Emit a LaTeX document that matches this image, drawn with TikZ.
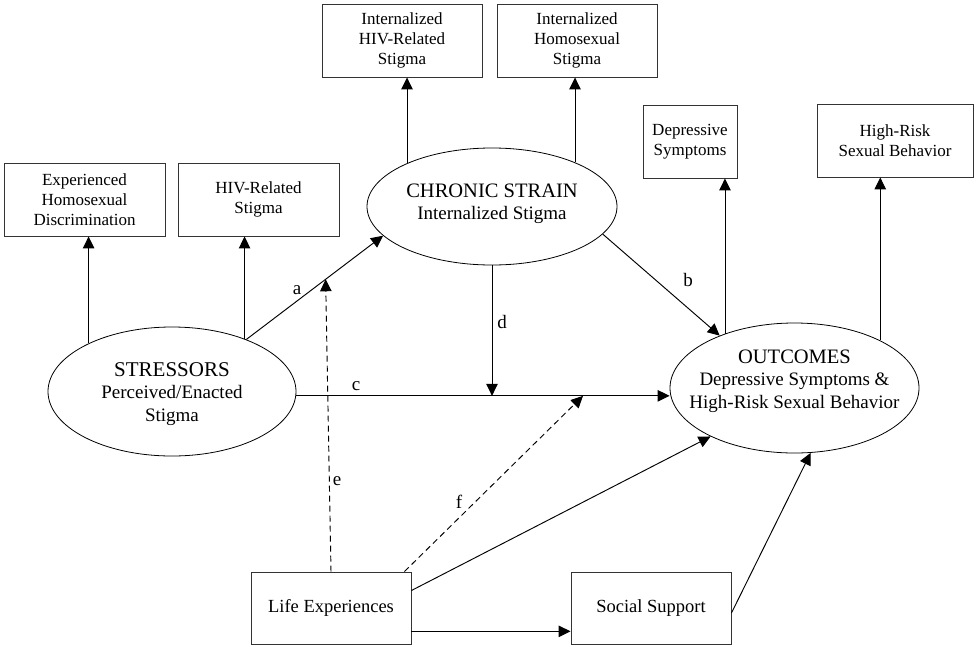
\documentclass[tikz,border=0pt]{standalone}
\usepackage{fontspec}
\setmainfont{Liberation Serif}
\usetikzlibrary{shapes.geometric,arrows.meta,calc}

\begin{document}
\begin{tikzpicture}[x=1pt,y=-1pt,
  box/.style={draw=black!80, line width=0.9pt, rectangle, inner sep=0pt,
              align=center, font=\fontsize{17}{20}\selectfont},
  lowbox/.style={box, font=\fontsize{18.5}{22}\selectfont},
  oval/.style={draw=black, line width=0.8pt, ellipse, inner sep=0pt},
  ovaltext/.style={align=center, inner sep=0pt, font=\fontsize{19}{22.5}\selectfont},
  link/.style={line width=0.95pt, -{Triangle[length=12pt,width=11.5pt]}},
  dlink/.style={link, dash pattern=on 6pt off 4pt},
  lab/.style={inner sep=0pt, font=\fontsize{19}{22}\selectfont}]
\useasboundingbox (0,0) rectangle (977,646);

% indicator boxes
\node[box, minimum width=161pt, minimum height=73pt] (exp) at (84.5,199.5)
  {Experienced\\Homosexual\\Discrimination};
\node[box, minimum width=161pt, minimum height=73pt] (hiv) at (258.5,199.5)
  {HIV-Related\\Stigma};
\node[box, minimum width=160pt, minimum height=73pt] (ihiv) at (402,40.5)
  {Internalized\\HIV-Related\\Stigma};
\node[box, minimum width=160pt, minimum height=73pt] (ihom) at (577,40.5)
  {Internalized\\Homosexual\\Stigma};
\node[box, minimum width=94pt, minimum height=73pt] (dep) at (690,141.5)
  {Depressive\\Symptoms};
\node[box, minimum width=156pt, minimum height=73pt] (hrsb) at (895,140.5)
  {High-Risk\\Sexual Behavior};

% latent constructs
\node[oval, minimum width=248pt, minimum height=129pt] (str) at (172,391.5) {};
\node[ovaltext] (strT) at (172,394)
  {{\fontsize{21}{22.5}\selectfont STRESSORS}\\Perceived/Enacted\\Stigma};
\node[oval, minimum width=250pt, minimum height=117pt] (chr) at (492,206.5) {};
\node[ovaltext] (chrT) at (492,204)
  {{\fontsize{20.5}{22.5}\selectfont CHRONIC STRAIN}\\Internalized Stigma};
\node[oval, minimum width=249pt, minimum height=130pt] (out) at (794.5,388) {};
\node[ovaltext] (outT) at (794.5,381)
  {{\fontsize{20.5}{22.5}\selectfont OUTCOMES}\\Depressive Symptoms \&\\High-Risk Sexual Behavior};

% moderators
\node[lowbox, minimum width=160pt, minimum height=72pt] (life) at (331,608) {Life Experiences};
\node[lowbox, minimum width=160pt, minimum height=72pt] (soc) at (651,608) {Social Support};

% measurement arrows
\draw[link] (str.150) -- (str.150 |- exp.south);
\draw[link] (str.36.7) -- (str.36.7 |- hiv.south);
\draw[link] (chr.153.9) -- (chr.153.9 |- ihiv.south);
\draw[link] (chr.28.8) -- (chr.28.8 |- ihom.south);
\draw[link] (out.142.2) -- (out.142.2 |- dep.south);
\draw[link] (out.29.2) -- (out.29.2 |- hrsb.south);

% structural paths
\draw[link] (str.35) -- (chr.195);
\node[lab] (la) at (297,290) {a};
\draw[link] (chr.-14.7) -- (out.145.5);
\node[lab] (lb) at (688,280) {b};
\coordinate (cL) at (str.-2.9);
\draw[link] (cL) -- (cL -| out.west);
\node[lab] (lc) at (356,386) {c};
\draw[link] (chr.south) -- (chr.south |- cL);
\node[lab] (ld) at (502,322) {d};

% moderation by life experiences
\coordinate (etip) at ($(str.35)!0.58!(chr.195)$);
\draw[dlink] (life.north) -- (etip);
\node[lab] (le) at (337,481) {e};
\coordinate (fstart) at ($(life.north east)+(-7,0)$);
\coordinate (ftip) at (583,0 |- cL);
\draw[dlink] (fstart) -- (ftip);
\node[lab] (lf) at (459,502) {f};

% direct paths from the bottom boxes
\draw[link] ($(life.north east)!0.26!(life.south east)$) -- (out.210.1);
\draw[link] ($(life.north east)!0.82!(life.south east)$) coordinate (ls)
  -- (ls -| soc.west);
\draw[link] ($(soc.east)+(0,5)$) -- (out.-76.6);
\end{tikzpicture}
\end{document}
